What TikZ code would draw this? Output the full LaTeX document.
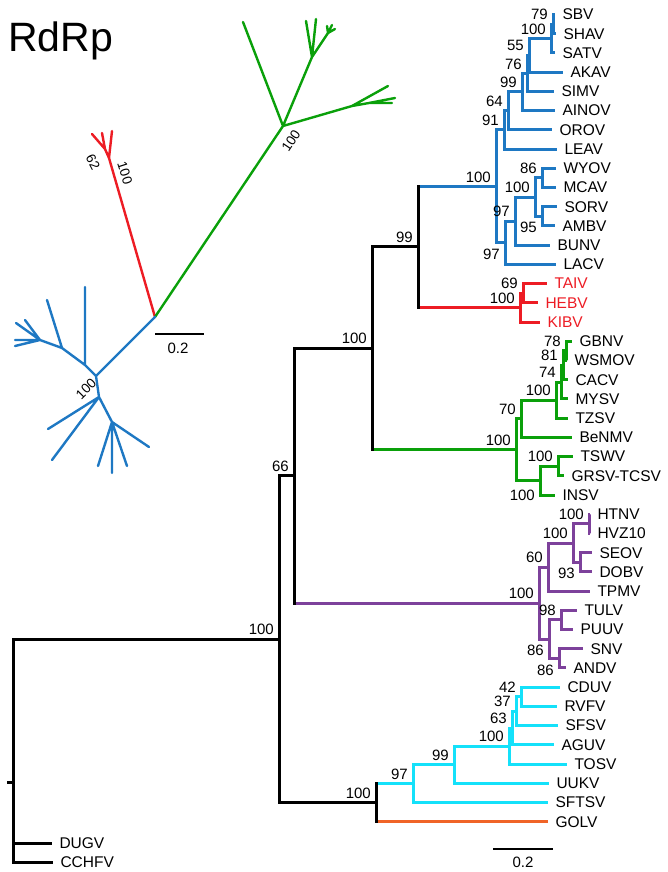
\documentclass[tikz,border=0pt]{standalone}
\usepackage{fontspec}
\setmainfont{Liberation Sans}
\definecolor{treeblue}{RGB}{30,120,195}
\definecolor{treered}{RGB}{237,28,36}
\definecolor{treegreen}{RGB}{10,160,10}
\definecolor{treepurple}{RGB}{125,65,155}
\definecolor{treecyan}{RGB}{20,225,250}
\definecolor{treeorange}{RGB}{240,100,40}
\newcommand{\lblfont}{\fontsize{15.5}{18}\selectfont}
\newcommand{\bsfont}{\fontsize{15}{18}\selectfont}
\newcommand{\ufont}{\fontsize{13.5}{16}\selectfont}
% row of leaf number #1
\newcommand{\ly}[1]{14.5+19.22*#1}
\begin{document}
\begin{tikzpicture}[x=1pt, y=-1pt,
    br/.style={line width=3pt},
    ubr/.style={line width=2.4pt, line cap=round},
    leaf/.style={anchor=west, inner sep=0.5pt, outer xsep=7pt, outer ysep=0pt, font=\lblfont},
    bs/.style={inner sep=0pt, font=\bsfont},
    bsa/.style={bs, anchor=south east, xshift=-5pt, yshift=4pt},
    bsb/.style={bs, anchor=north east, xshift=-5pt, yshift=-6pt},
    ulbl/.style={inner sep=0pt, font=\ufont}]
\useasboundingbox (0,0) rectangle (668,872);

\node[anchor=base west, inner sep=0pt, font=\fontsize{41}{45}\selectfont] (title) at (8,52) {RdRp};

% unrooted tree
\coordinate (u0) at (155,317);
\coordinate (r1) at (109,158);
\coordinate (r2) at (105,149);
\coordinate (ra) at (92,134);
\coordinate (rb) at (102,133);
\coordinate (rc) at (112,131);
\draw[ubr, treered] (u0) -- (r1) -- (rc) (r1) -- (r2) -- (ra) (r2) -- (rb);

\coordinate (g0) at (283,126);
\coordinate (ga) at (243,22);
\coordinate (g1) at (312,57);
\coordinate (gb) at (306,21);
\coordinate (gc) at (316,19);
\coordinate (g4) at (328,33);
\coordinate (gd) at (327,26);
\coordinate (ge) at (332,25);
\coordinate (gf) at (335,29);
\coordinate (g2) at (352,106);
\coordinate (gg) at (388,86);
\coordinate (g3) at (369,103);
\coordinate (gh) at (395,98);
\coordinate (gi) at (392,103);
\draw[ubr, treegreen] (u0) -- (g0) -- (ga) (g0) -- (g1) -- (gb) (g1) -- (gc)
  (g1) -- (g4) -- (gd) (g4) -- (ge) (g4) -- (gf)
  (g0) -- (g2) -- (gg) (g2) -- (g3) -- (gh) (g3) -- (gi);

\coordinate (b0) at (96,376);
\coordinate (b1) at (85,365);
\coordinate (ba) at (85,287);
\coordinate (b2) at (62,348);
\coordinate (bb) at (47,300);
\coordinate (b3) at (40,340);
\coordinate (bc) at (16,323);
\coordinate (bd) at (25,320);
\coordinate (be) at (15,340);
\coordinate (bf) at (15,346);
\coordinate (b4) at (99,397);
\coordinate (bg) at (48,429);
\coordinate (bh) at (52,460);
\coordinate (b6) at (112,422);
\coordinate (bi) at (98,466);
\coordinate (bj) at (112,473);
\coordinate (bk) at (127,466);
\coordinate (bl) at (149,447);
\draw[ubr, treeblue] (u0) -- (b0) -- (b1) -- (ba) (b1) -- (b2) -- (bb)
  (b2) -- (b3) -- (bc) (b3) -- (bd) (b3) -- (be) (b3) -- (bf)
  (b0) -- (b4) -- (bg) (b4) -- (bh) (b4) -- (b6) -- (bi) (b6) -- (bj) (b6) -- (bk) (b6) -- (bl);

\node[ulbl, rotate=-62] (ur62) at (93,162) {62};
\node[ulbl, rotate=-72] (ur100) at (125,173) {100};
\node[ulbl, rotate=56] (ug100) at (291,141) {100};
\node[ulbl, rotate=45] (ub100) at (86,389) {100};

\coordinate (sa) at (155,334);
\coordinate (sb) at (204,334);
\draw[line width=2.4pt] (sa) -- (sb);
\node[bs] (sl1) at (178,348) {0.2};

% leaves
\node[leaf] (SBV) at (555,{\ly{0}}) {SBV};
\node[leaf] (SHAV) at (556,{\ly{1}}) {SHAV};
\node[leaf] (SATV) at (555,{\ly{2}}) {SATV};
\node[leaf] (AKAV) at (563,{\ly{3}}) {AKAV};
\node[leaf] (SIMV) at (554,{\ly{4}}) {SIMV};
\node[leaf] (AINOV) at (555,{\ly{5}}) {AINOV};
\node[leaf] (OROV) at (552,{\ly{6}}) {OROV};
\node[leaf] (LEAV) at (557,{\ly{7}}) {LEAV};
\node[leaf] (WYOV) at (556,{\ly{8}}) {WYOV};
\node[leaf] (MCAV) at (556,{\ly{9}}) {MCAV};
\node[leaf] (SORV) at (557,{\ly{10}}) {SORV};
\node[leaf] (AMBV) at (555,{\ly{11}}) {AMBV};
\node[leaf] (BUNV) at (550,{\ly{12}}) {BUNV};
\node[leaf] (LACV) at (556,{\ly{13}}) {LACV};
\node[leaf, text=treered] (TAIV) at (547,{\ly{14}}) {TAIV};
\node[leaf, text=treered] (HEBV) at (538,{\ly{15}}) {HEBV};
\node[leaf, text=treered] (KIBV) at (540,{\ly{16}}) {KIBV};
\node[leaf] (GBNV) at (572,{\ly{17}}) {GBNV};
\node[leaf] (WSMOV) at (567,{\ly{18}}) {WSMOV};
\node[leaf] (CACV) at (568,{\ly{19}}) {CACV};
\node[leaf] (MYSV) at (568,{\ly{20}}) {MYSV};
\node[leaf] (TZSV) at (568,{\ly{21}}) {TZSV};
\node[leaf] (BeNMV) at (572,{\ly{22}}) {BeNMV};
\node[leaf] (TSWV) at (573,{\ly{23}}) {TSWV};
\node[leaf] (GRSV) at (564,{\ly{24}}) {GRSV-TCSV};
\node[leaf] (INSV) at (555,{\ly{25}}) {INSV};
\node[leaf] (HTNV) at (590,{\ly{26}}) {HTNV};
\node[leaf] (HVZ10) at (590,{\ly{27}}) {HVZ10};
\node[leaf] (SEOV) at (592,{\ly{28}}) {SEOV};
\node[leaf] (DOBV) at (592,{\ly{29}}) {DOBV};
\node[leaf] (TPMV) at (590,{\ly{30}}) {TPMV};
\node[leaf] (TULV) at (577,{\ly{31}}) {TULV};
\node[leaf] (PUUV) at (573,{\ly{32}}) {PUUV};
\node[leaf] (SNV) at (583,{\ly{33}}) {SNV};
\node[leaf] (ANDV) at (566,{\ly{34}}) {ANDV};
\node[leaf] (CDUV) at (560,{\ly{35}}) {CDUV};
\node[leaf] (RVFV) at (557,{\ly{36}}) {RVFV};
\node[leaf] (SFSV) at (558,{\ly{37}}) {SFSV};
\node[leaf] (AGUV) at (554,{\ly{38}}) {AGUV};
\node[leaf] (TOSV) at (567,{\ly{39}}) {TOSV};
\node[leaf] (UUKV) at (549,{\ly{40}}) {UUKV};
\node[leaf] (SFTSV) at (548,{\ly{41}}) {SFTSV};
\node[leaf] (GOLV) at (548,{\ly{42}}) {GOLV};
\node[leaf] (DUGV) at (52,843) {DUGV};
\node[leaf] (CCHFV) at (53,862) {CCHFV};

% inner nodes
\coordinate (n79) at (553,{\ly{0.5}});
\coordinate (n100a) at (551,{\ly{1.25}});
\coordinate (n55) at (529,{\ly{2.125}});
\coordinate (n76) at (527,{\ly{3.0625}});
\coordinate (n99b) at (522,{\ly{4.0312}});
\coordinate (n64) at (508,{\ly{5.0156}});
\coordinate (n91) at (504,{\ly{6.0078}});
\coordinate (nD) at (542,{\ly{8.5}});
\coordinate (nE) at (542,{\ly{10.5}});
\coordinate (nC) at (535,{\ly{9.5}});
\coordinate (nB) at (515,{\ly{10.75}});
\coordinate (nA) at (505,{\ly{11.875}});
\coordinate (nb) at (496,{\ly{8.9414}});
\coordinate (n69) at (523,{\ly{14.5}});
\coordinate (n100r) at (520,{\ly{15.25}});
\coordinate (n99) at (418,{\ly{12.0957}});
\coordinate (n78) at (566,{\ly{17.5}});
\coordinate (n81) at (563,{\ly{18.25}});
\coordinate (n74) at (561,{\ly{19.125}});
\coordinate (n100g) at (556,{\ly{20.0625}});
\coordinate (n70) at (521,{\ly{21.0312}});
\coordinate (n100t) at (558,{\ly{23.5}});
\coordinate (n100i) at (540,{\ly{24.25}});
\coordinate (n100G) at (516,{\ly{22.6406}});
\coordinate (n100m) at (372,{\ly{17.368}});
\coordinate (n100h) at (589,{\ly{26.5}});
\coordinate (n93) at (580,{\ly{28.5}});
\coordinate (n100p) at (573,{\ly{27.5}});
\coordinate (n60) at (548,{\ly{28.75}});
\coordinate (n98) at (561,{\ly{31.5}});
\coordinate (n86b) at (559,{\ly{33.5}});
\coordinate (n86a) at (549,{\ly{32.5}});
\coordinate (nP) at (539,{\ly{30.625}});
\coordinate (n66) at (294,{\ly{23.9965}});
\coordinate (n42) at (521,{\ly{35.5}});
\coordinate (n37) at (516,{\ly{36.25}});
\coordinate (n63) at (512,{\ly{37.125}});
\coordinate (n100c) at (509,{\ly{38.0625}});
\coordinate (n99c) at (454,{\ly{39.0312}});
\coordinate (n97c) at (413,{\ly{40.0156}});
\coordinate (nGO) at (376,{\ly{41.0078}});
\coordinate (n100R) at (279,{\ly{32.502}});
\coordinate (root) at (13,782);
\coordinate (stub) at (7,782);

% branches
\draw[br, treeblue] (n79) |- (SBV) (n79) |- (SHAV) (n100a) |- (n79) (n100a) |- (SATV)
  (n55) |- (n100a) (n55) |- (AKAV) (n76) |- (n55) (n76) |- (SIMV)
  (n99b) |- (n76) (n99b) |- (AINOV) (n64) |- (n99b) (n64) |- (OROV)
  (n91) |- (n64) (n91) |- (LEAV) (nD) |- (WYOV) (nD) |- (MCAV)
  (nE) |- (SORV) (nE) |- (AMBV) (nC) |- (nD) (nC) |- (nE)
  (nB) |- (nC) (nB) |- (BUNV) (nA) |- (nB) (nA) |- (LACV)
  (nb) |- (n91) (nb) |- (nA) (n99) |- (nb);
\draw[br, treered] (n69) |- (TAIV) (n69) |- (HEBV) (n100r) |- (n69) (n100r) |- (KIBV)
  (n99) |- (n100r);
\draw[br, treegreen] (n78) |- (GBNV) (n78) |- (WSMOV) (n81) |- (n78) (n81) |- (CACV)
  (n74) |- (n81) (n74) |- (MYSV) (n100g) |- (n74) (n100g) |- (TZSV)
  (n70) |- (n100g) (n70) |- (BeNMV) (n100t) |- (TSWV) (n100t) |- (GRSV)
  (n100i) |- (n100t) (n100i) |- (INSV) (n100G) |- (n70) (n100G) |- (n100i)
  (n100m) |- (n100G);
\draw[br, treepurple] (n100h) |- (HTNV) (n100h) |- (HVZ10) (n93) |- (SEOV) (n93) |- (DOBV)
  (n100p) |- (n100h) (n100p) |- (n93) (n60) |- (n100p) (n60) |- (TPMV)
  (n98) |- (TULV) (n98) |- (PUUV) (n86b) |- (SNV) (n86b) |- (ANDV)
  (n86a) |- (n98) (n86a) |- (n86b) (nP) |- (n60) (nP) |- (n86a)
  (n66) |- (nP);
\draw[br, treecyan] (n42) |- (CDUV) (n42) |- (RVFV) (n37) |- (n42) (n37) |- (SFSV)
  (n63) |- (n37) (n63) |- (AGUV) (n100c) |- (n63) (n100c) |- (TOSV)
  (n99c) |- (n100c) (n99c) |- (UUKV) (n97c) |- (n99c) (n97c) |- (SFTSV)
  (nGO) |- (n97c);
\draw[br, treeorange] (nGO) |- (GOLV);
\draw[br] (n100m) |- (n99) (n66) |- (n100m) (n100R) |- (n66) (n100R) |- (nGO)
  (root) |- (n100R) (root) |- (DUGV) (root) |- (CCHFV) (stub) -- (root);
\draw[br, line cap=rect] (n99 |- nb) -- (n99 |- n100r) (n100m |- n99) -- (n100m |- n100G)
  (n66 |- n100m) -- (n66 |- nP) (nGO |- n97c) -- (nGO |- GOLV);

% support values
\node[bsa] (s79) at (n79) {79};
\node[bsa] (s100a) at (n100a) {100};
\node[bsa] (s55) at (n55) {55};
\node[bsa] (s76) at (n76) {76};
\node[bsa] (s99b) at (n99b) {99};
\node[bsa] (s64) at (n64) {64};
\node[bsa] (s91) at (n91) {91};
\node[bsa] (sD) at (nD) {86};
\node[bsa] (sC) at (nC) {100};
\node[bsa] (sB) at (nB) {97};
\node[bsb] (sE) at (nE) {95};
\node[bsb] (sA) at (nA) {97};
\node[bsa] (sb) at (nb) {100};
\node[bsa] (s69) at (n69) {69};
\node[bsa] (s100r) at (n100r) {100};
\node[bsa] (s99) at (n99) {99};
\node[bsa] (s78) at (n78) {78};
\node[bsa] (s81) at (n81) {81};
\node[bsa] (s74) at (n74) {74};
\node[bsa] (s100g) at (n100g) {100};
\node[bsa] (s70) at (n70) {70};
\node[bsa] (s100t) at (n100t) {100};
\node[bs, anchor=east, xshift=-5pt] (s100i) at (n100i |- INSV) {100};
\node[bsa] (s100G) at (n100G) {100};
\node[bsa] (s100m) at (n100m) {100};
\node[bsa] (s100h) at (n100h) {100};
\node[bsb] (s93) at (n93) {93};
\node[bsa] (s100p) at (n100p) {100};
\node[bsa] (s60) at (n60) {60};
\node[bsa] (s98) at (n98) {98};
\node[bsb] (s86b) at (n86b) {86};
\node[bsb] (s86a) at (n86a) {86};
\node[bsa] (sP) at (nP) {100};
\node[bsa] (s66) at (n66) {66};
\node[bsa] (s42) at (n42) {42};
\node[bsa] (s37) at (n37) {37};
\node[bsa] (s63) at (n63) {63};
\node[bsa] (s100c) at (n100c) {100};
\node[bsa] (s99c) at (n99c) {99};
\node[bsa] (s97c) at (n97c) {97};
\node[bsa] (sGO) at (nGO) {100};
\node[bsa] (s100R) at (n100R) {100};

% scale
\coordinate (sc) at (493,849);
\coordinate (sd) at (553,849);
\draw[line width=2.4pt] (sc) -- (sd);
\node[bs] (sl2) at (523,862) {0.2};
\end{tikzpicture}
\end{document}
